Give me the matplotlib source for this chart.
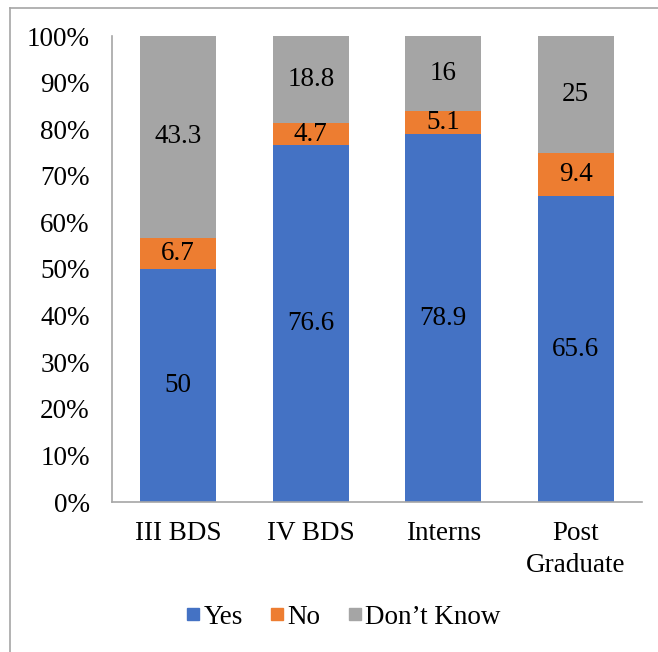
import matplotlib.pyplot as plt
import numpy as np
from matplotlib.lines import Line2D

plt.rcParams['font.family'] = ['Liberation Serif', 'DejaVu Serif']

groups = ['III BDS', 'IV BDS', 'Interns', 'Post\nGraduate']
yes = [50, 76.6, 78.9, 65.6]
no = [6.7, 4.7, 5.1, 9.4]
dont_know = [43.3, 18.8, 16, 25]
series_names = ['Yes', 'No', 'Don\u2019t Know']
colors = ['#4472C4', '#ED7D31', '#A5A5A5']

fs = 19.5

fig = plt.figure(figsize=(6.58, 6.52), dpi=100)
ax = fig.add_axes([112/658, 1 - 502/652, 530/658, 466/652])

x = np.arange(len(groups))
bottom = np.zeros(len(groups))
handles = []
for vals, name, col in zip([yes, no, dont_know], series_names, colors):
    vals = np.array(vals, dtype=float)
    ax.bar(x, vals, 0.57, bottom=bottom, color=col, label=name)
    for xi, b, v in zip(x, bottom, vals):
        ax.text(xi, b + v / 2, f'{v:g}', ha='center', va='center', fontsize=fs, color='black')
    bottom += vals
    handles.append(Line2D([], [], marker='s', linestyle='none', markersize=9,
                          markerfacecolor=col, markeredgecolor=col, label=name))

ax.set_xlim(-0.5, len(groups) - 0.5)
ax.set_ylim(0, 100)
ax.set_yticks(np.arange(0, 101, 10))
ax.set_yticklabels([f'{t}%' for t in range(0, 101, 10)], fontsize=fs)
ax.set_xticks(x)
ax.set_xticklabels(groups, fontsize=fs, linespacing=1.35)
ax.tick_params(axis='y', length=0, pad=16)
ax.tick_params(axis='x', length=0, pad=14)
for side in ['top', 'right']:
    ax.spines[side].set_visible(False)
for side in ['left', 'bottom']:
    ax.spines[side].set_color('#A6A6A6')
    ax.spines[side].set_linewidth(1.2)

fig.legend(handles=handles, loc='center', bbox_to_anchor=(0.52, 1 - 617/652),
           ncol=3, frameon=False, fontsize=fs, handletextpad=0.05, columnspacing=0.9,
           handlelength=0.7)

# outer chart border (only left and top edges visible in the crop)
fig.add_artist(Line2D([10/658, 10/658], [0, 1 - 8/652], color='#A6A6A6', lw=1.2))
fig.add_artist(Line2D([10/658, 1], [1 - 8/652, 1 - 8/652], color='#A6A6A6', lw=1.2))

fig.savefig('out.png', dpi=100)
